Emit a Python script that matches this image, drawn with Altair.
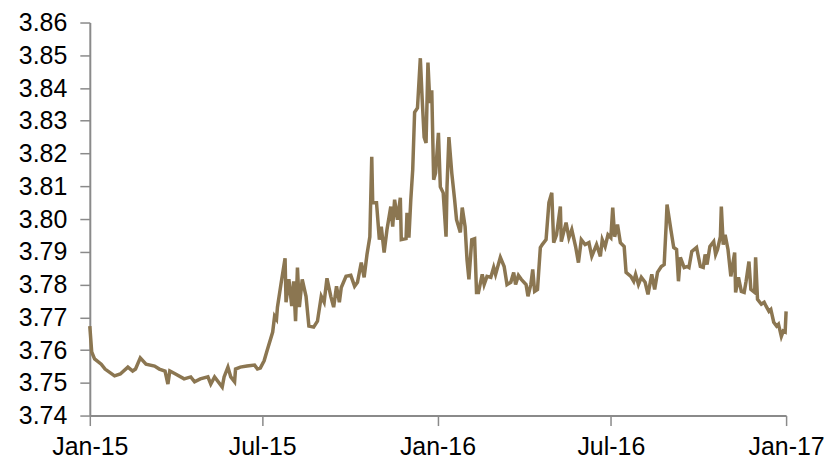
import altair as alt
import pandas as pd

# Days since 2015-01-01 and values
days = [0, 2, 5, 12, 16, 26, 32, 40, 45, 48, 53, 59, 68, 73, 79, 82, 84, 90, 99, 106,
        110, 116, 124, 127, 131, 139, 141, 145, 148, 152, 153, 158, 165, 173, 176, 179, 183, 186,
        192, 194, 196, 197, 201, 205, 206, 209, 212, 214, 216, 218, 220, 223, 227, 230, 235, 239,
        243, 246, 249, 253, 256, 259, 262, 264, 269, 274, 278, 281, 285, 288, 291, 294, 296, 297,
        301, 304, 306, 309, 312, 316, 318, 320, 323, 326, 327, 332, 333, 335, 337, 339, 341, 344,
        347, 349, 351, 353, 355, 357, 359, 361, 363, 366, 368, 371, 374, 375, 377, 380, 383, 385,
        389, 391, 394, 396, 398, 401, 404, 406,
        408, 412, 414, 417, 421, 424, 426, 431, 435, 438, 442, 445, 447, 450, 453, 458, 460, 463,
        465, 467, 470, 473, 475, 479, 482, 485, 487, 490, 494, 495, 500, 503, 506, 510, 513, 516, 520,
        524, 527, 532, 536, 538, 541, 544, 547, 549, 551, 554, 557, 561, 563, 568, 571, 573, 576,
        579, 583, 586, 590, 593, 596, 600, 603, 605, 606, 610, 613, 616, 618, 620, 624, 627,
        629, 632, 637, 641, 644, 646, 648, 651, 655, 657, 659, 662, 663, 665, 667, 670, 673, 677,
        678, 681, 684, 687, 689, 692, 694, 698, 699, 701, 705, 708, 710, 713, 715, 718, 721, 723,
        726, 728, 730, 731]

values = [3.7673, 3.7594, 3.7573, 3.7557, 3.7542, 3.7521, 3.7527, 3.7548, 3.7536, 3.7542,
          3.7576, 3.7557, 3.7551, 3.7542, 3.7536, 3.7496, 3.7536, 3.7527, 3.7512, 3.7518,
          3.7503, 3.7512, 3.7518, 3.7496, 3.7518, 3.7487, 3.7518, 3.7548, 3.7518, 3.7503,
          3.7542, 3.7548, 3.7551, 3.7554, 3.7542, 3.7545, 3.7567, 3.7597,
          3.7655, 3.7703, 3.7694, 3.7731, 3.7807, 3.7880, 3.7746, 3.7816, 3.7734, 3.7810,
          3.7688, 3.7852, 3.7731, 3.7816, 3.7764, 3.7673, 3.7670, 3.7688, 3.7764, 3.7746,
          3.7819, 3.7764, 3.7731, 3.7795, 3.7746, 3.7791, 3.7825, 3.7828, 3.7795, 3.7807,
          3.7867, 3.7822, 3.7892, 3.7946, 3.8190, 3.8050,
          3.8050, 3.7937, 3.7977, 3.7898, 3.7968, 3.8038, 3.7977, 3.8059, 3.7998, 3.8065,
          3.7937, 3.7940, 3.8019, 3.7943, 3.8059, 3.8150, 3.8326, 3.8339, 3.8491, 3.8363,
          3.8250, 3.8232, 3.8478, 3.8354, 3.8393, 3.8120, 3.8141, 3.8263, 3.8098, 3.8080,
          3.7946, 3.8098, 3.8250, 3.8141, 3.8059, 3.7998, 3.7959, 3.8035, 3.7977, 3.7876,
          3.7816, 3.7937, 3.7940, 3.7776,
          3.7776, 3.7831, 3.7800, 3.7825, 3.7822, 3.7852, 3.7831, 3.7883, 3.7855, 3.7800,
          3.7807, 3.7837, 3.7800, 3.7828, 3.7816, 3.7800, 3.7764, 3.7800, 3.7846, 3.7779,
          3.7785, 3.7913, 3.7922, 3.7937, 3.8050, 3.8080, 3.7928, 3.7952, 3.8038, 3.7931,
          3.7989, 3.7943, 3.7968, 3.7916, 3.7867, 3.7937, 3.7922,
          3.7928, 3.7886, 3.7922, 3.7886, 3.7937, 3.7916, 3.7952, 3.7943, 3.8035, 3.7946,
          3.7983, 3.7928, 3.7916, 3.7837, 3.7825, 3.7810, 3.7831, 3.7800, 3.7822, 3.7807,
          3.7770, 3.7831, 3.7785, 3.7837, 3.7855, 3.7861, 3.7977, 3.8044, 3.7968, 3.7913,
          3.7907, 3.7810, 3.7883, 3.7852, 3.7855,
          3.7852, 3.7901, 3.7913, 3.7855, 3.7852, 3.7892, 3.7861, 3.7916, 3.7931, 3.7892,
          3.7907, 3.7946, 3.8038, 3.7922, 3.7952, 3.7907, 3.7825, 3.7898, 3.7776, 3.7822,
          3.7779, 3.7776, 3.7810, 3.7870, 3.7785, 3.7776, 3.7883, 3.7755, 3.7740, 3.7746,
          3.7734, 3.7718, 3.7724, 3.7685, 3.7673, 3.7679, 3.7642, 3.7658, 3.7655, 3.7718]

tick_dates = ["2015-01-01", "2015-07-01", "2016-01-01", "2016-07-01", "2017-01-01"]
y_ticks = [3.74, 3.75, 3.76, 3.77, 3.78, 3.79, 3.80, 3.81, 3.82, 3.83, 3.84, 3.85, 3.86]

dates = pd.Timestamp("2015-01-01") + pd.to_timedelta(days, unit="D")
df = pd.DataFrame({"date": dates.strftime("%Y-%m-%d"), "value": values})


def utc_dt(s):
    y, m, d = (int(p) for p in s.split("-"))
    return alt.DateTime(year=y, month=m, date=d, utc=True)


chart = alt.Chart(df).mark_line(color="#8B7651", strokeWidth=3.5).encode(
    x=alt.X("date:T",
            scale=alt.Scale(type="utc", domain=[utc_dt(tick_dates[0]), utc_dt(tick_dates[-1])]),
            axis=alt.Axis(values=[utc_dt(t) for t in tick_dates],
                          labelExpr="utcFormat(datum.value, '%b-%y')",
                          labelFlush=False, labelOverlap=False, labelAlign="center",
                          title=None, labelPadding=9, grid=False)),
    y=alt.Y("value:Q", scale=alt.Scale(domain=[3.74, 3.86], nice=False, zero=False),
            axis=alt.Axis(values=y_ticks, format=".2f", title=None, labelPadding=13, grid=False)),
).properties(
    width=698, height=394,
    autosize=alt.AutoSizeParams(type="none"),
    padding={"left": 82, "top": 14, "right": 40, "bottom": 46},
).configure_view(stroke=None).configure_axis(
    domainColor="#8a8a8a", domainWidth=2, tickColor="#8a8a8a", tickWidth=1.5, tickSize=10,
    labelFont="Liberation Sans", labelFontSize=25, labelColor="#000000",
)

chart.save("out.html", embed_options={"renderer": "svg", "actions": False})
